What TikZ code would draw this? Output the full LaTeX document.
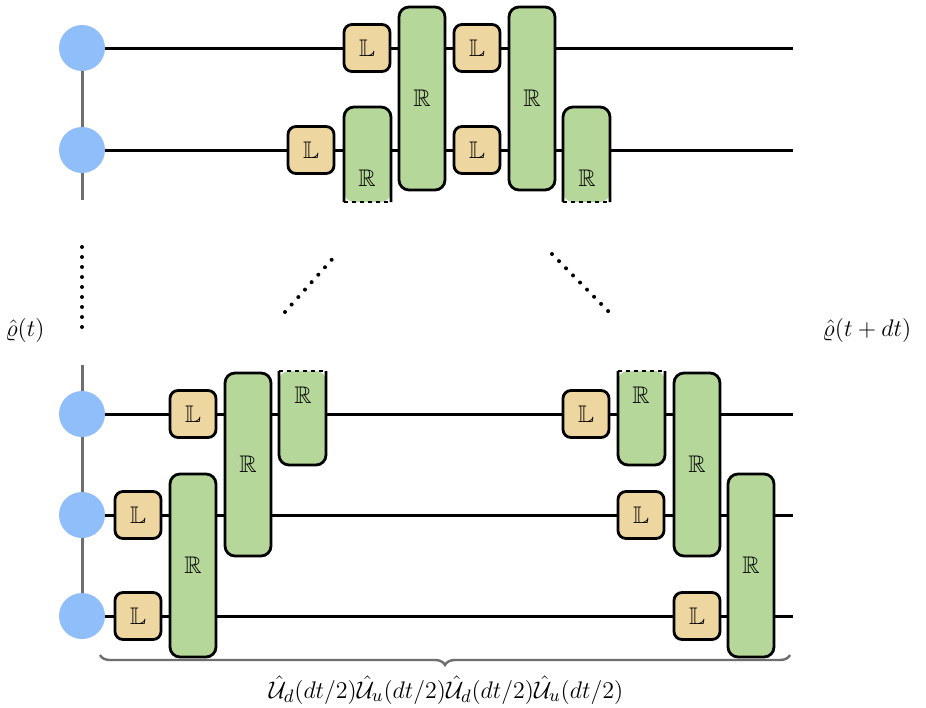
\documentclass[tikz,border=0pt]{standalone}
\usepackage{amsmath, amssymb}
\usepackage{xcolor}
\usetikzlibrary{decorations.pathreplacing}
\definecolor{SiteBlue}{RGB}{143, 190, 250}
\definecolor{LFill}{RGB}{238, 214, 160}
\definecolor{RFill}{RGB}{182, 215, 154}
\definecolor{ChainGray}{RGB}{110, 110, 110}

\begin{document}
\begin{tikzpicture}[
    x=0.5pt, y=-0.5pt,
    site/.style={
        circle,
        fill=SiteBlue,
        minimum size=23pt,
        inner sep=0pt
    },
    wire/.style={
        line width=1.5pt
    },
    chain/.style={
        line width=1.5pt,
        draw=ChainGray
    },
    lgate/.style={
        rectangle,
        rounded corners=4pt,
        draw,
        line width=1.4pt,
        fill=LFill,
        minimum width=23pt,
        minimum height=23.5pt,
        inner sep=0pt,
        font=\large
    },
    rgate/.style={
        rectangle,
        rounded corners=5pt,
        draw,
        line width=1.4pt,
        fill=RFill,
        minimum width=23pt,
        minimum height=91.5pt,
        inner sep=0pt,
        font=\large
    },
    halfgate/.style={
        line width=1.4pt,
        rounded corners=5pt
    },
    dots/.style={
        line width=2pt,
        line cap=round,
        dash pattern=on 0pt off 5pt
    },
    label/.style={
        font=\fontsize{13}{15}\selectfont
    }
]
\useasboundingbox (0,0) rectangle (926,707);

% Top chain
\node[site] (t1) at (82,48) {};
\node[site] (t2) at (82,150) {};
\coordinate (tend) at (82,200);
\coordinate (t1e) at (793,48);
\coordinate (t2e) at (793,150);
\draw[chain] (t1) -- (t2) -- (tend);
\draw[wire] (t1.east) -- (t1e);
\draw[wire] (t2.east) -- (t2e);

% Bottom chain
\node[site] (b1) at (82,414) {};
\node[site] (b2) at (82,515) {};
\node[site] (b3) at (82,616) {};
\coordinate (bstart) at (82,365);
\coordinate (b1e) at (793,414);
\coordinate (b2e) at (793,515);
\coordinate (b3e) at (793,616);
\draw[chain] (bstart) -- (b1) -- (b2) -- (b3);
\draw[wire] (b1.east) -- (b1e);
\draw[wire] (b2.east) -- (b2e);
\draw[wire] (b3.east) -- (b3e);

% Top gates
\node[lgate] (tl1) at (367,48) {$\mathbb{L}$};
\node[lgate] (tl2) at (477,48) {$\mathbb{L}$};
\node[lgate] (tl3) at (311,150) {$\mathbb{L}$};
\node[lgate] (tl4) at (477,150) {$\mathbb{L}$};
\node[rgate] (tr1) at (422,98.5) {$\mathbb{R}$};
\node[rgate] (tr2) at (532,98.5) {$\mathbb{R}$};

% Top cut gates
\fill[RFill, halfgate] (344,202) -- (344,107) -- (391,107) -- (391,202) -- cycle;
\draw[halfgate] (344,202) -- (344,107) -- (391,107) -- (391,202);
\draw[line width=1.4pt, dash pattern=on 2pt off 2pt] (344,202) -- (391,202);
\node[font=\large] (th1) at (367,178) {$\mathbb{R}$};
\fill[RFill, halfgate] (563,202) -- (563,107) -- (610,107) -- (610,202) -- cycle;
\draw[halfgate] (563,202) -- (563,107) -- (610,107) -- (610,202);
\draw[line width=1.4pt, dash pattern=on 2pt off 2pt] (563,202) -- (610,202);
\node[font=\large] (th2) at (587,178) {$\mathbb{R}$};

% Bottom gates, left half
\node[lgate] (bl1) at (193,414) {$\mathbb{L}$};
\node[lgate] (bl2) at (138,515) {$\mathbb{L}$};
\node[lgate] (bl3) at (138,616) {$\mathbb{L}$};
\node[rgate] (br1) at (248,464.5) {$\mathbb{R}$};
\node[rgate] (br2) at (193,565.5) {$\mathbb{R}$};

% Bottom gates, right half
\node[lgate] (bl4) at (586,414) {$\mathbb{L}$};
\node[lgate] (bl5) at (641,515) {$\mathbb{L}$};
\node[lgate] (bl6) at (697,616) {$\mathbb{L}$};
\node[rgate] (br3) at (697,464.5) {$\mathbb{R}$};
\node[rgate] (br4) at (751,565.5) {$\mathbb{R}$};

% Bottom cut gates
\fill[RFill, halfgate] (279,371) -- (279,465) -- (326,465) -- (326,371) -- cycle;
\draw[halfgate] (279,371) -- (279,465) -- (326,465) -- (326,371);
\draw[line width=1.4pt, dash pattern=on 2pt off 2pt] (279,371) -- (326,371);
\node[font=\large] (bh1) at (303,395) {$\mathbb{R}$};
\fill[RFill, halfgate] (618,371) -- (618,465) -- (665,465) -- (665,371) -- cycle;
\draw[halfgate] (618,371) -- (618,465) -- (665,465) -- (665,371);
\draw[line width=1.4pt, dash pattern=on 2pt off 2pt] (618,371) -- (665,371);
\node[font=\large] (bh2) at (641,395) {$\mathbb{R}$};

% Dots between the two chains
\coordinate (v1) at (82,247);
\coordinate (v2) at (82,330);
\coordinate (d1) at (285,312);
\coordinate (d2) at (335,256);
\coordinate (d3) at (552,254);
\coordinate (d4) at (611,314);
\draw[dots] (v1) -- (v2);
\draw[dots] (d1) -- (d2);
\draw[dots] (d3) -- (d4);

% States
\node[label] (rho0) at (25,330) {$\hat{\varrho}(t)$};
\node[label] (rho1) at (867,330) {$\hat{\varrho}(t+dt)$};

% Brace and product
\coordinate (brr) at (790,655);
\coordinate (brl) at (100,655);
\draw[ChainGray, line width=1.2pt,
      decorate, decoration={brace, amplitude=5pt}] (brr) -- (brl);
\node[label] (prod) at (446,690)
      {$\hat{\mathcal{U}}_d(dt/2)\hat{\mathcal{U}}_u(dt/2)\hat{\mathcal{U}}_d(dt/2)\hat{\mathcal{U}}_u(dt/2)$};

\end{tikzpicture}
\end{document}
